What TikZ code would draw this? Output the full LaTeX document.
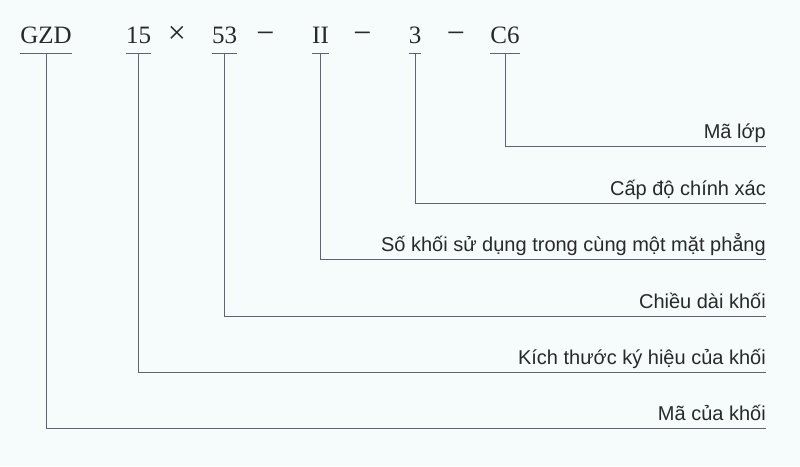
\documentclass[tikz,border=0pt]{standalone}
\usepackage{fontspec}
\setmainfont{Liberation Serif}
\newfontfamily\labelfont{Liberation Sans}
\usetikzlibrary{positioning,calc}
\definecolor{paper}{RGB}{246,251,251}
\definecolor{linegray}{RGB}{95,100,112}
\definecolor{textgray}{RGB}{40,40,45}

\begin{document}
\begin{tikzpicture}[x=1pt,y=-1pt,
    code/.style={font=\fontsize{25}{25}\selectfont, text=textgray, anchor=base, inner sep=0pt},
    sign/.style={code, font=\fontsize{32}{32}\selectfont},
    lbl/.style={font=\labelfont\fontsize{20}{20}\selectfont, text=textgray, anchor=base east, inner sep=0pt},
    lead/.style={draw=linegray, line width=1pt}]
    \fill[paper] (0,0) rectangle (800,466);
    \useasboundingbox (0,0) rectangle (800,466);

    % type code
    \node[code] (gzd)  at (46,43.6)    {GZD};
    \node[code] (size) at (138.5,43.6) {15};
    \node[sign] (mul)  at (177,43.6)   {×};
    \node[code] (len)  at (224.5,43.6) {53};
    \node[sign] (da)   at (265.5,43.6) {−};
    \node[code] (grp)  at (320.5,43.6) {II};
    \node[sign] (db)   at (362.5,43.6) {−};
    \node[code] (acc)  at (415,43.6)   {3};
    \node[sign] (dc)   at (456,43.6)   {−};
    \node[code] (cls)  at (505,43.6)   {C6};

    \foreach \n in {gzd,size,len,grp,acc,cls}
        \draw[lead] ([yshift=-10pt]\n.base west) -- ([yshift=-10pt]\n.base east);

    % leaders to the meanings
    \foreach \src/\y/\txt [count=\i] in {cls/146.5/Mã lớp, acc/203.5/Cấp độ chính xác,
        grp/259.5/Số khối sử dụng trong cùng một mặt phẳng, len/316.5/Chiều dài khối,
        size/372/Kích thước ký hiệu của khối, gzd/428.5/Mã của khối} {
        \coordinate (end\i) at (766,\y);
        \node[lbl] (lbl\i) at (766,\y-8) {\txt};
        \draw[lead] ([yshift=-10pt]\src.base) |- (end\i);
    }
\end{tikzpicture}
\end{document}
